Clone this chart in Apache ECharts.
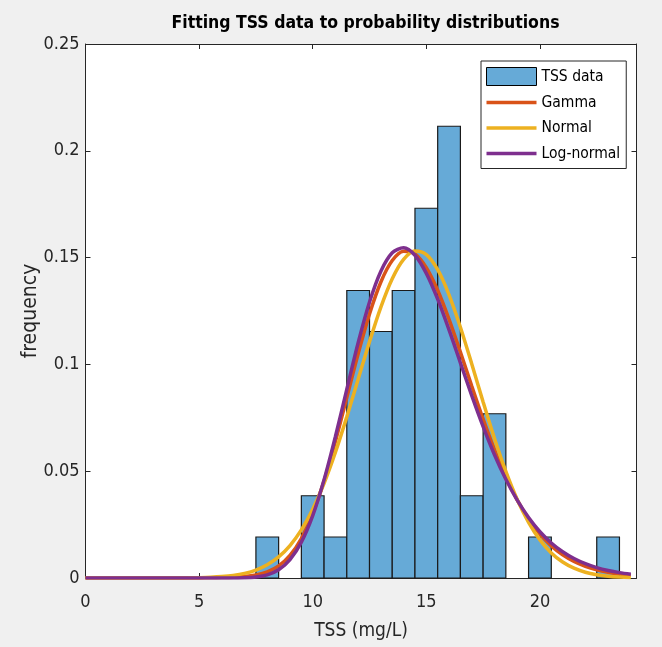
<!DOCTYPE html>
<html>
<head>
<meta charset="utf-8">
<script src="https://cdn.jsdelivr.net/npm/echarts@6/dist/echarts.min.js"></script>
<style>
  html, body { margin: 0; padding: 0; background: #f0f0f0; }
  #chart { width: 662px; height: 647px; }
</style>
</head>
<body>
<div id="chart"></div>
<script>
// ---- data ----
const binCenters = [8, 10, 11, 12, 13, 14, 15, 16, 17, 18, 20, 23];
const binValues  = [0.0192, 0.0385, 0.0192, 0.1346, 0.1154, 0.1346, 0.1731, 0.2115, 0.0385, 0.0769, 0.0192, 0.0192];
const binWidth = 1;

const fitX = [0, 0.5, 1, 1.5, 2, 2.5, 3, 3.5, 4, 4.5, 5, 5.5, 6, 6.5, 7, 7.5, 8, 8.5, 9, 9.5,
  10, 10.5, 11, 11.5, 12, 12.5, 13, 13.5, 14, 14.5, 15, 15.5, 16, 16.5, 17, 17.5, 18, 18.5, 19, 19.5,
  20, 20.5, 21, 21.5, 22, 22.5, 23, 23.5, 24];
const gammaPdf = [0, 0, 0, 0, 0, 0, 0, 0, 0, 0, 0.00005, 0.0001, 0.0002, 0.00038, 0.00073, 0.00145, 0.00288, 0.00565, 0.01056, 0.01850,
  0.03010, 0.04549, 0.06405, 0.08448, 0.10500, 0.12363, 0.13859, 0.14861, 0.15298, 0.15169, 0.14526, 0.13468, 0.12108, 0.10573, 0.08984, 0.07435, 0.06000, 0.04731, 0.03651, 0.02762,
  0.02052, 0.01501, 0.01084, 0.00774, 0.00549, 0.00387, 0.00272, 0.00190, 0.00133];
const normalPdf = [0, 0, 0, 0, 0, 0, 0.00001, 0.00002, 0.00004, 0.00008, 0.00017, 0.00034, 0.00066, 0.00121, 0.00217, 0.00372, 0.00617, 0.00986, 0.01517, 0.02250,
  0.03218, 0.04436, 0.05892, 0.07543, 0.09306, 0.11067, 0.12684, 0.14013, 0.14919, 0.15309, 0.15140, 0.14432, 0.13259, 0.11740, 0.10019, 0.08241, 0.06532, 0.04991, 0.03675, 0.02609,
  0.01784, 0.01176, 0.00748, 0.00458, 0.00270, 0.00154, 0.00084, 0.00044, 0.00023];
const lognormalPdf = [0, 0, 0, 0, 0, 0, 0, 0, 0, 0, 0, 0, 0.000003, 0.00002, 0.00012, 0.00047, 0.00147, 0.00384, 0.00858, 0.01678,
  0.02921, 0.04597, 0.06626, 0.08835, 0.11012, 0.12918, 0.14362, 0.15225, 0.15461, 0.15109, 0.14263, 0.13055, 0.11614, 0.10073, 0.08541, 0.07089, 0.05772, 0.04620, 0.03641, 0.02827,
  0.02167, 0.01640, 0.01228, 0.00910, 0.00669, 0.00487, 0.00352, 0.00252, 0.00180];

const xTicks = [0, 5, 10, 15, 20];
const titleText = 'Fitting TSS data to probability distributions';
const xName = 'TSS (mg/L)';
const yName = 'frequency';
const seriesNames = ['TSS data', 'Gamma', 'Normal', 'Log-normal'];

// ---- styling ----
const FONT = "'DejaVu Sans Condensed', 'Liberation Sans Narrow', 'Liberation Sans', Arial, sans-serif";
const AX = '#262626';
const colBar = '#66aad7';
const colGamma = '#d95319';
const colNormal = '#edb120';
const colLog = '#7e2f8e';
const lineIcon = 'path://M0,0M50,18M0,7.25L50,7.25L50,10.75L0,10.75Z';

const chart = echarts.init(document.getElementById('chart'), null, { renderer: 'canvas' });

const xMin = 0, xMax = 24.25;
const commonX = {
  type: 'value', min: xMin, max: xMax, interval: 5,
  splitLine: { show: false },
  axisLine: { show: true, onZero: false, lineStyle: { color: AX, width: 1 } },
  axisTick: { show: true, inside: true, length: 5, lineStyle: { color: AX } }
};
const commonY = {
  type: 'value', min: 0, max: 0.25, interval: 0.05,
  splitLine: { show: false },
  axisLine: { show: true, onZero: false, lineStyle: { color: AX, width: 1 } },
  axisTick: { show: true, inside: true, length: 5, lineStyle: { color: AX } }
};

const option = {
  backgroundColor: '#f0f0f0',
  animation: false,
  title: {
    text: titleText,
    left: 360.5, top: 9, textAlign: 'center',
    textStyle: { fontFamily: FONT, fontWeight: 'bold', fontSize: 17.5, color: '#000' }
  },
  grid: {
    left: 85.5, right: 25.5, top: 44, bottom: 69,
    containLabel: false, outerBoundsMode: 'none',
    show: true, backgroundColor: '#ffffff', borderWidth: 0
  },
  legend: {
    orient: 'vertical',
    left: 481, top: 61,
    padding: [6, 6, 6, 5],
    itemWidth: 50, itemHeight: 18, itemGap: 7.5,
    backgroundColor: '#ffffff',
    borderColor: AX, borderWidth: 1,
    textStyle: { fontFamily: FONT, fontSize: 15.5, color: '#000' },
    data: [
      { name: seriesNames[0], icon: 'rect', itemStyle: { color: colBar, borderColor: '#000', borderWidth: 1 } },
      { name: seriesNames[1], icon: lineIcon, itemStyle: { color: colGamma, borderWidth: 0 } },
      { name: seriesNames[2], icon: lineIcon, itemStyle: { color: colNormal, borderWidth: 0 } },
      { name: seriesNames[3], icon: lineIcon, itemStyle: { color: colLog, borderWidth: 0 } }
    ]
  },
  xAxis: [
    Object.assign({}, commonX, {
      position: 'bottom',
      name: xName, nameLocation: 'middle', nameGap: 44, nameMoveOverlap: false,
      nameTextStyle: { fontFamily: FONT, fontSize: 19, color: AX },
      axisLabel: {
        show: true, margin: 15, fontFamily: FONT, fontSize: 18, color: AX,
        formatter: v => (xTicks.indexOf(v) >= 0 ? String(v) : '')
      }
    }),
    Object.assign({}, commonX, { position: 'top', axisLabel: { show: false } })
  ],
  yAxis: [
    Object.assign({}, commonY, {
      position: 'left',
      name: yName, nameLocation: 'middle', nameGap: 44, nameRotate: 90, nameMoveOverlap: false,
      nameTextStyle: { fontFamily: FONT, fontSize: 21, color: AX },
      axisLabel: { show: true, margin: 6, fontFamily: FONT, fontSize: 18, color: AX }
    }),
    Object.assign({}, commonY, { position: 'right', axisLabel: { show: false } })
  ],
  series: [
    {
      name: seriesNames[0],
      type: 'custom',
      xAxisIndex: 0, yAxisIndex: 0,
      itemStyle: { color: colBar, borderColor: '#000', borderWidth: 1 },
      data: binCenters.map((c, i) => [c, binValues[i]]),
      encode: { x: 0, y: 1 },
      renderItem: function (params, api) {
        const c = api.value(0), v = api.value(1);
        const p0 = api.coord([c - binWidth / 2, v]);
        const p1 = api.coord([c + binWidth / 2, 0]);
        return {
          type: 'rect',
          shape: { x: p0[0], y: p0[1], width: p1[0] - p0[0], height: p1[1] - p0[1] },
          style: { fill: colBar, stroke: '#1a1a1a', lineWidth: 1.2 }
        };
      }
    },
    {
      name: seriesNames[1], type: 'line', smooth: 0.3, symbol: 'none',
      color: colGamma,
      lineStyle: { color: colGamma, width: 3.5 },
      data: fitX.map((x, i) => [x, gammaPdf[i]])
    },
    {
      name: seriesNames[2], type: 'line', smooth: 0.3, symbol: 'none',
      color: colNormal,
      lineStyle: { color: colNormal, width: 3.5 },
      data: fitX.map((x, i) => [x, normalPdf[i]])
    },
    {
      name: seriesNames[3], type: 'line', smooth: 0.3, symbol: 'none',
      color: colLog,
      lineStyle: { color: colLog, width: 3.5 },
      data: fitX.map((x, i) => [x, lognormalPdf[i]])
    }
  ]
};
chart.setOption(option);
</script>
</body>
</html>
